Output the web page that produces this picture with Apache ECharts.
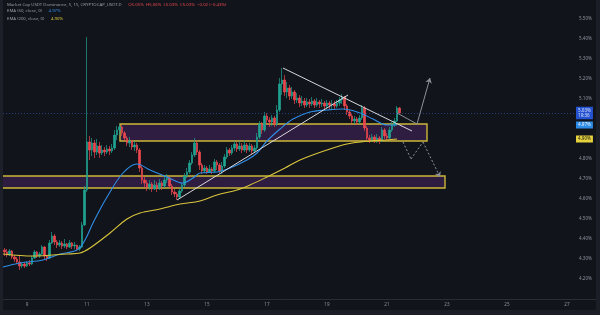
<!DOCTYPE html>
<html><head><meta charset="utf-8">
<script src="https://cdn.jsdelivr.net/npm/echarts@6/dist/echarts.min.js"></script>
<style>html,body{margin:0;padding:0;background:#12141c;}#c{width:600px;height:315px;}</style>
</head><body><div id="c"></div>
<script>
// ---- candles (2h bars), values in % ----
const firstOpen = 4.345;
const candleStart = 8.25;     // day of month of first bar
const candleStep = 1 / 12;    // 2 hours
const closes = [
4.335,4.320,4.340,4.310,4.300,4.285,4.265,4.275,4.265,4.280,
4.275,4.305,4.335,4.315,4.325,4.360,4.315,4.305,4.380,4.415,
4.385,4.370,4.380,4.365,4.375,4.360,4.380,4.365,4.370,4.350,
4.360,4.470,4.645,4.885,4.845,4.880,4.835,4.865,4.830,4.845,
4.835,4.850,4.840,4.855,4.920,4.945,4.960,4.930,4.905,4.880,
4.890,4.860,4.870,4.845,4.755,4.695,4.680,4.660,4.675,4.650,
4.670,4.655,4.680,4.665,4.695,4.705,4.665,4.635,4.625,4.610,
4.640,4.670,4.715,4.735,4.780,4.820,4.880,4.835,4.770,4.740,
4.755,4.735,4.750,4.740,4.785,4.770,4.740,4.765,4.810,4.845,
4.830,4.855,4.875,4.850,4.865,4.845,4.870,4.845,4.865,4.840,
4.855,4.910,4.975,4.945,5.015,4.995,4.985,5.005,4.975,5.045,
5.175,5.195,5.135,5.155,5.115,5.135,5.095,5.105,5.080,5.090,
5.070,5.085,5.075,5.090,5.070,5.085,5.075,5.080,5.065,5.080,
5.070,5.075,5.065,5.080,5.095,5.110,5.065,5.035,5.015,4.990,
5.000,4.985,5.005,5.055,4.955,4.905,4.895,4.910,4.895,4.905,
4.890,4.945,4.915,4.905,4.945,4.970,4.990,5.055,5.030];
const highs = [
4.355,4.350,4.350,4.345,4.320,4.310,4.315,4.285,4.285,4.290,
4.295,4.315,4.345,4.340,4.335,4.370,4.365,4.320,4.395,4.435,
4.425,4.395,4.395,4.390,4.400,4.380,4.395,4.385,4.385,4.370,
4.370,4.485,4.665,5.410,4.915,4.905,4.895,4.900,4.885,4.870,
4.860,4.870,4.865,4.875,4.945,4.965,4.975,4.970,4.940,4.915,
4.910,4.895,4.890,4.880,4.855,4.765,4.715,4.695,4.695,4.685,
4.695,4.685,4.700,4.690,4.715,4.725,4.715,4.675,4.650,4.635,
4.650,4.680,4.730,4.755,4.795,4.835,4.905,4.890,4.845,4.780,
4.770,4.765,4.770,4.760,4.800,4.795,4.780,4.785,4.825,4.860,
4.855,4.870,4.890,4.885,4.890,4.880,4.895,4.880,4.880,4.875,
4.870,4.930,4.990,4.985,5.035,5.030,5.010,5.020,5.015,5.070,
5.205,5.255,5.220,5.185,5.170,5.160,5.145,5.130,5.120,5.115,
5.105,5.105,5.100,5.110,5.100,5.105,5.095,5.100,5.090,5.095,
5.090,5.095,5.090,5.095,5.110,5.125,5.115,5.075,5.045,5.025,
5.015,5.010,5.020,5.070,5.065,4.965,4.920,4.925,4.920,4.925,
4.915,4.960,4.955,4.930,4.960,4.985,5.005,5.065,5.060];
const lows = [
4.315,4.310,4.315,4.300,4.285,4.275,4.245,4.255,4.255,4.260,
4.265,4.270,4.300,4.305,4.305,4.320,4.300,4.290,4.300,4.375,
4.370,4.355,4.360,4.350,4.355,4.350,4.355,4.350,4.350,4.340,
4.340,4.355,4.465,4.635,4.795,4.815,4.805,4.820,4.805,4.820,
4.815,4.825,4.820,4.830,4.845,4.895,4.920,4.915,4.890,4.865,
4.860,4.845,4.840,4.830,4.735,4.675,4.655,4.640,4.645,4.635,
4.645,4.635,4.645,4.645,4.655,4.680,4.650,4.620,4.610,4.595,
4.600,4.630,4.660,4.705,4.725,4.770,4.810,4.820,4.745,4.725,
4.730,4.725,4.730,4.725,4.730,4.745,4.730,4.725,4.755,4.800,
4.815,4.820,4.840,4.835,4.840,4.830,4.835,4.830,4.835,4.825,
4.830,4.845,4.900,4.925,4.935,4.970,4.960,4.965,4.960,4.965,
5.035,5.120,5.115,5.105,5.095,5.100,5.075,5.080,5.060,5.065,
5.055,5.060,5.055,5.065,5.055,5.060,5.055,5.060,5.045,5.055,
5.050,5.045,5.045,5.055,5.065,5.075,5.045,5.020,5.000,4.975,
4.975,4.970,4.975,4.995,4.940,4.890,4.880,4.885,4.880,4.880,
4.875,4.885,4.900,4.890,4.900,4.935,4.960,4.985,5.025];

// ---- EMA lines ----
const ema50Days = [8.20,8.767,9.533,10.10,10.667,10.933,11.20,11.667,12.20,12.667,13.10,13.667,14.20,14.533,14.767,15.333,15.767,16.333,16.667,17.00,17.433,17.867,18.433,19.00,19.533,20.10,20.533,21.00,21.333];
const ema50Vals = [4.260,4.280,4.295,4.325,4.345,4.395,4.480,4.610,4.730,4.775,4.745,4.710,4.680,4.705,4.730,4.735,4.755,4.795,4.830,4.890,4.950,5.000,5.035,5.045,5.050,5.030,5.000,4.970,4.970];
const ema200Days = [8.20,9.20,10.333,10.767,11.10,11.767,12.333,12.767,13.433,14.10,14.767,15.333,16.00,16.433,17.00,17.60,18.10,19.00,19.667,20.433,21.00,21.333];
const ema200Vals = [4.325,4.315,4.325,4.330,4.355,4.430,4.500,4.530,4.550,4.575,4.590,4.620,4.645,4.670,4.710,4.755,4.795,4.845,4.875,4.890,4.895,4.900];

// ---- drawings [day, %] ----
const zoneUpper = [[12.10, 4.975], [22.333, 4.890]];
const zoneLower = [[8.05, 4.715], [22.933, 4.655]];
const trendUp = [[14.00, 4.595], [19.70, 5.120]];
const trendDown = [[17.533, 5.255], [21.833, 4.940]];
const pathBull = [[21.333, 5.030], [22.00, 4.975], [22.433, 5.205]];
const pathBear = [[21.533, 4.885], [21.80, 4.800], [22.20, 4.885], [22.767, 4.710]];

// ---- axes ----
const dayTicks = [9, 11, 13, 15, 17, 19, 21, 23, 25, 27];
const pctTicks = [4.2, 4.3, 4.4, 4.5, 4.6, 4.7, 4.8, 5.1, 5.2, 5.3, 5.4, 5.5];
const countdown = '19:36';
const headerName = 'Market Cap USDT Dominance, 5, 15, CRYPTOCAP_USDT.D';
const headerOHLC = 'O5.05%  H5.06%  L5.03%  C5.03%  \u22120.02 (\u22120.43%)';

const FONT = '"Noto Sans", "DejaVu Sans", sans-serif';
const UP = '#1fa28f', DOWN = '#e8474d';
const BLUE = '#2f8ee6', YEL = '#d9c53c', BOXBORDER = '#cbb838';

const candleData = closes.map((c, i) => [candleStart + i * candleStep, i ? closes[i - 1] : firstOpen, c, lows[i], highs[i]]);
const lastClose = closes[closes.length - 1];
const last50 = ema50Vals[ema50Vals.length - 1];
const last200 = ema200Vals[ema200Vals.length - 1];

function segs(pts, style, arrow) {
  const out = [];
  for (let i = 0; i < pts.length - 1; i++) {
    const last = i === pts.length - 2;
    out.push([{ coord: pts[i], symbol: 'none', lineStyle: style },
              { coord: pts[i + 1], symbol: arrow && last ? 'arrow' : 'none' }]);
  }
  return out;
}
const white = { color: '#d6d8de', width: 1, type: 'solid' };
const grey = { color: '#8e919a', width: 1, type: 'solid' };
const greyDash = { color: '#8e919a', width: 1, type: [2, 2] };

function priceLabel(v, text, bg, fg, lineStyle) {
  return {
    yAxis: v,
    lineStyle: lineStyle,
    label: { show: true, position: 'end', distance: 2, formatter: text, backgroundColor: bg, color: fg,
      fontSize: 4.6, fontFamily: FONT, lineHeight: 5.5, padding: [1, 2, 0.5, 2] }
  };
}
const noLine = { color: 'rgba(0,0,0,0)', width: 0 };

const chart = echarts.init(document.getElementById('c'));
chart.setOption({
  backgroundColor: '#12141c',
  animation: false,
  grid: { left: 0, right: 26, top: 0, bottom: 16, containLabel: false },
  xAxis: {
    type: 'value', min: 8.1, max: 27.2333,
    axisLine: { show: true, lineStyle: { color: '#2a2d36', width: 1 } },
    axisTick: { show: false }, splitLine: { show: false },
    axisLabel: { customValues: dayTicks, color: '#8c8f98', fontSize: 4.6, fontFamily: FONT, margin: 3 }
  },
  yAxis: {
    type: 'value', position: 'right', min: 4.10, max: 5.595, scale: true,
    axisLine: { show: false }, axisTick: { show: false }, splitLine: { show: false },
    axisLabel: { customValues: pctTicks, color: '#8c8f98', fontSize: 4.6, fontFamily: FONT, margin: 5,
      formatter: v => v.toFixed(2) + '%' }
  },
  series: [
    {
      type: 'candlestick', data: candleData, barWidth: 1.6, z: 3,
      itemStyle: { color: UP, color0: DOWN, borderColor: UP, borderColor0: DOWN, borderWidth: 0.7 },
      markArea: {
        silent: true, z: 1,
        itemStyle: { color: 'rgba(118,52,160,0.28)', borderColor: BOXBORDER, borderWidth: 1.4 },
        data: [
          [{ coord: zoneUpper[0] }, { coord: zoneUpper[1] }],
          [{ coord: zoneLower[0] }, { coord: zoneLower[1] }]
        ]
      },
      markLine: {
        silent: true, symbol: 'none', symbolSize: 5, z: 6,
        label: { show: false },
        data: [
          priceLabel(lastClose, lastClose.toFixed(2) + '%\n' + countdown, '#2962ff', '#ffffff',
            { color: '#264a94', width: 1, type: [1, 2], opacity: 0.8 }),
          priceLabel(last50, last50.toFixed(2) + '%', '#2c8be4', '#e8f1ff', noLine),
          priceLabel(last200, last200.toFixed(2) + '%', '#e5d23d', '#1a1a1a', noLine),
          ...segs(trendUp, white, false),
          ...segs(trendDown, white, false),
          ...segs(pathBull, grey, true),
          ...segs(pathBear, greyDash, true)
        ]
      }
    },
    {
      type: 'line', name: 'EMA50', data: ema50Days.map((d, i) => [d, ema50Vals[i]]),
      smooth: 0.35, symbol: 'none', z: 4, lineStyle: { color: BLUE, width: 1.1 }
    },
    {
      type: 'line', name: 'EMA200', data: ema200Days.map((d, i) => [d, ema200Vals[i]]),
      smooth: 0.35, symbol: 'none', z: 4, lineStyle: { color: YEL, width: 1.1 }
    }
  ],
  graphic: [
    { type: 'rect', left: 0, top: 0, shape: { width: 3, height: 315 }, style: { fill: '#1d2029' }, z: 10 },
    { type: 'rect', left: 0, top: 310, shape: { width: 600, height: 5 }, style: { fill: '#1b1e27' }, z: 10 },
    { type: 'line', shape: { x1: 574, y1: 299.5, x2: 596, y2: 299.5 }, style: { stroke: '#2a2d36', lineWidth: 1 }, z: 10 },
    { type: 'rect', left: 596, top: 0, shape: { width: 4, height: 315 }, style: { fill: '#1b1e27' }, z: 10 },
    {
      type: 'text', left: 7, top: -1.5, z: 10,
      style: {
        text: '{a|' + headerName + '}  {r|' + headerOHLC + '}',
        rich: {
          a: { fill: '#9a9da6', fontSize: 4.3, fontFamily: FONT },
          r: { fill: '#e8474d', fontSize: 4.3, fontFamily: FONT }
        }
      }
    },
    {
      type: 'text', left: 7, top: 5, z: 10,
      style: {
        text: '{a|EMA (50, close, 0)}  {b|' + last50.toFixed(2) + '%}',
        rich: { a: { fill: '#9a9da6', fontSize: 4.3, fontFamily: FONT }, b: { fill: BLUE, fontSize: 4.3, fontFamily: FONT } }
      }
    },
    {
      type: 'text', left: 7, top: 12.5, z: 10,
      style: {
        text: '{a|EMA (200, close, 0)}  {b|' + last200.toFixed(2) + '%}',
        rich: { a: { fill: '#9a9da6', fontSize: 4.3, fontFamily: FONT }, b: { fill: YEL, fontSize: 4.3, fontFamily: FONT } }
      }
    }
  ]
});
</script>
</body></html>
